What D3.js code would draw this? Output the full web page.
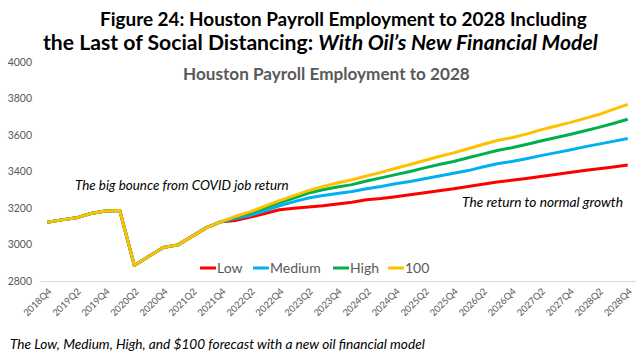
<!DOCTYPE html>
<html><head><meta charset="utf-8">
<script src="https://cdn.jsdelivr.net/npm/d3@7"></script>
<style>
body{margin:0;background:#fff;}
svg{display:block;font-family:Lato,"Open Sans",sans-serif;}
</style></head>
<body><svg id="c" width="641" height="355"></svg>
<script>
// ---- data ----
const quarters = [];
for (let y = 2018; y <= 2028; y++) for (let q = 1; q <= 4; q++) {
  if (y === 2018 && q < 4) continue;
  quarters.push(y + "Q" + q);
}
const history = [3122, 3135, 3146, 3170, 3184, 3186, 2885, 2936, 2984, 2998, 3046, 3094, 3125];
const lowForecast = [3132, 3150, 3170, 3190, 3198, 3206, 3212, 3222, 3232, 3245, 3252, 3262, 3272, 3283, 3295, 3305, 3318, 3330, 3342, 3352, 3362, 3372, 3383, 3394, 3405, 3415, 3425, 3435];
const mediumForecast = [3143, 3160, 3185, 3212, 3235, 3255, 3268, 3280, 3290, 3305, 3318, 3333, 3345, 3360, 3375, 3390, 3405, 3425, 3442, 3455, 3470, 3487, 3502, 3518, 3535, 3550, 3565, 3581];
const highForecast = [3150, 3172, 3200, 3230, 3255, 3282, 3300, 3315, 3328, 3348, 3365, 3383, 3400, 3420, 3438, 3455, 3475, 3495, 3515, 3530, 3548, 3567, 3585, 3603, 3622, 3642, 3663, 3686];
const oil100Forecast = [3155, 3180, 3210, 3240, 3268, 3295, 3318, 3337, 3355, 3375, 3395, 3418, 3438, 3460, 3482, 3502, 3525, 3548, 3570, 3585, 3605, 3628, 3648, 3668, 3690, 3712, 3740, 3768];
const seriesNames = ["Low", "Medium", "High", "100"];
const seriesColors = ["#ff0000", "#00b0f0", "#00b050", "#ffc000"];
const yTicks = [2800, 3000, 3200, 3400, 3600, 3800, 4000];
const xTickLabels = quarters.filter((d, i) => i % 2 === 0);

const forecasts = [lowForecast, mediumForecast, highForecast, oil100Forecast];
const series = seriesNames.map((n, k) => ({name: n, color: seriesColors[k], values: history.concat(forecasts[k])}));

// ---- helpers ----
function fit(sel, w) {
  const fs = parseFloat(sel.attr("font-size"));
  const len = sel.node().getComputedTextLength();
  sel.attr("font-size", (fs * w / len).toFixed(2));
  return sel;
}

// ---- layout ----
const svg = d3.select("#c");
const x = d3.scaleBand().domain(quarters).range([40, 635]).paddingInner(0).paddingOuter(0);
const xc = q => x(q) + x.bandwidth() / 2;
const y = d3.scaleLinear().domain([2800, 4000]).range([281, 62]);
const gray = "#595959";

// title
const t1 = svg.append("text").attr("x", 100).attr("y", 26).attr("font-weight", "bold").attr("font-size", 20).attr("fill", "#000")
  .text("Figure 24: Houston Payroll Employment to 2028 Including");
fit(t1, 487);
const t2 = svg.append("text").attr("x", 43).attr("y", 50).attr("font-weight", "bold").attr("font-size", 20).attr("fill", "#000");
t2.append("tspan").text("the Last of Social Distancing: ");
t2.append("tspan").attr("font-style", "italic").text("With Oil\u2019s New Financial Model");
fit(t2, 555);

const st = svg.append("text").attr("x", 183).attr("y", 80)
  .attr("font-weight", "bold").attr("font-size", 15).attr("fill", gray)
  .text("Houston Payroll Employment to 2028");
fit(st, 287);

// y axis labels
const ya = svg.append("g").attr("transform", "translate(32,0)")
  .call(d3.axisLeft(y).tickValues(yTicks).tickSize(0).tickPadding(0).tickFormat(d3.format("d")));
ya.select(".domain").remove();
ya.selectAll("text").attr("fill", gray).attr("font-size", 10.5).attr("font-family", "Lato, sans-serif");

// x axis
const xa = svg.append("g").attr("transform", "translate(0,281)")
  .call(d3.axisBottom(x).tickValues(xTickLabels).tickSize(0).tickPadding(0));
xa.select(".domain").attr("stroke", "#d9d9d9").attr("stroke-width", 1);
xa.selectAll("text").attr("fill", gray).attr("font-size", 9.5).attr("font-family", "Lato, sans-serif")
  .attr("text-anchor", "end").attr("dy", 0).attr("y", 0)
  .attr("transform", "translate(5,11) rotate(-45)");

// lines
const line = d3.line().x((d, i) => xc(quarters[i])).y(d => y(d));
svg.append("g").selectAll("path").data(series).join("path")
  .attr("d", d => line(d.values)).attr("fill", "none")
  .attr("stroke", d => d.color).attr("stroke-width", 3).attr("stroke-linejoin", "round");

// annotations
fit(svg.append("text").attr("x", 75).attr("y", 190).attr("font-style", "italic").attr("font-size", 12.5).attr("fill", "#000")
  .text("The big bounce from COVID job return"), 214);
fit(svg.append("text").attr("x", 462).attr("y", 207).attr("font-style", "italic").attr("font-size", 12.5).attr("fill", "#000")
  .text("The return to normal growth"), 161);

// legend
const legX = [200, 253, 333, 388];
const lg = svg.append("g").selectAll("g").data(series).join("g")
  .attr("transform", (d, i) => `translate(${legX[i]},268)`);
lg.append("line").attr("x1", 0).attr("x2", 16).attr("stroke", d => d.color).attr("stroke-width", 3);
lg.append("text").attr("x", 17).attr("y", 5).attr("font-size", 14).attr("fill", gray).text(d => d.name);

// footer
fit(svg.append("text").attr("x", 10).attr("y", 349).attr("font-style", "italic").attr("font-size", 12.5).attr("fill", "#000")
  .text("The Low, Medium, High, and $100 forecast with a new oil financial model"), 415);
</script></body></html>
